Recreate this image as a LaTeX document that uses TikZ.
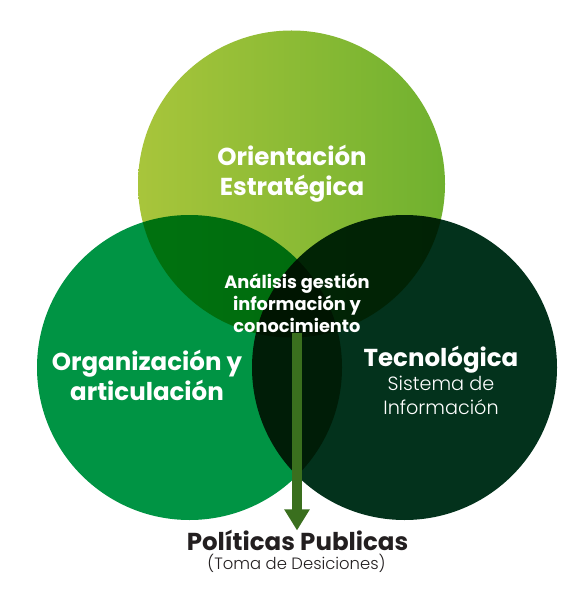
\documentclass[tikz,border=0pt]{standalone}
\usepackage{fontspec}
\setmainfont{Poppins}
\newfontfamily\popbold{Poppins}[UprightFont=* Bold]
\newfontfamily\poplight{Poppins}[UprightFont=* Light]
\usetikzlibrary{arrows.meta}
\definecolor{topL}{RGB}{168,197,59}
\definecolor{topM}{RGB}{158,194,58}
\definecolor{topR}{RGB}{112,177,47}
\definecolor{orgG}{RGB}{0,148,68}
\definecolor{tecG}{RGB}{3,50,28}
\definecolor{arrG}{RGB}{58,111,30}
\definecolor{inkB}{RGB}{35,31,32}
\begin{document}
\begin{tikzpicture}[x=1pt,y=-1pt,
  circtext/.style={text=white,align=center,inner sep=0pt},
  bigbold/.style={font=\popbold\fontsize{24.5}{30}\selectfont},
  midbold/.style={font=\popbold\fontsize{17.8}{21.7}\selectfont},
  light/.style={font=\poplight\fontsize{19.2}{24}\selectfont}]
\useasboundingbox[fill=white] (0,0) rectangle (587,612);
% circles
\shade[left color=topL, middle color=topM, right color=topR] (291.5,184) circle (153.5);
\fill[orgG, blend mode=multiply] (189.5,367.5) circle (152.5);
\fill[tecG, blend mode=multiply] (404.5,367.5) circle (152.5);
% texts
\node[circtext,bigbold] (ori) at (292,174) {Orientación\\Estratégica};
\node[circtext,midbold] (ana) at (297,303) {Análisis gestión\\información y\\conocimiento};
\node[circtext,bigbold] (org) at (147,375) {Organización y\\articulación};
\node[circtext,bigbold] (tec) at (441,360) {Tecnológica};
\node[circtext,light] (sis) at (441,395) {Sistema de\\Información};
\node[inner sep=0pt,text=inkB,bigbold,anchor=base] (pol) at (297.5,550) {Políticas Publicas};
\node[inner sep=0pt,text=inkB,font=\poplight\fontsize{16.4}{20}\selectfont,anchor=base] (tom) at (296.5,569) {(Toma de Desiciones)};
% arrow
\draw[arrG, line width=10pt, -{Triangle[width=24pt,length=21pt]}]
  ([yshift=-1pt]ana.south -| 297,0) -- ([yshift=-1pt]pol.north -| 297,0);
\end{tikzpicture}
\end{document}
